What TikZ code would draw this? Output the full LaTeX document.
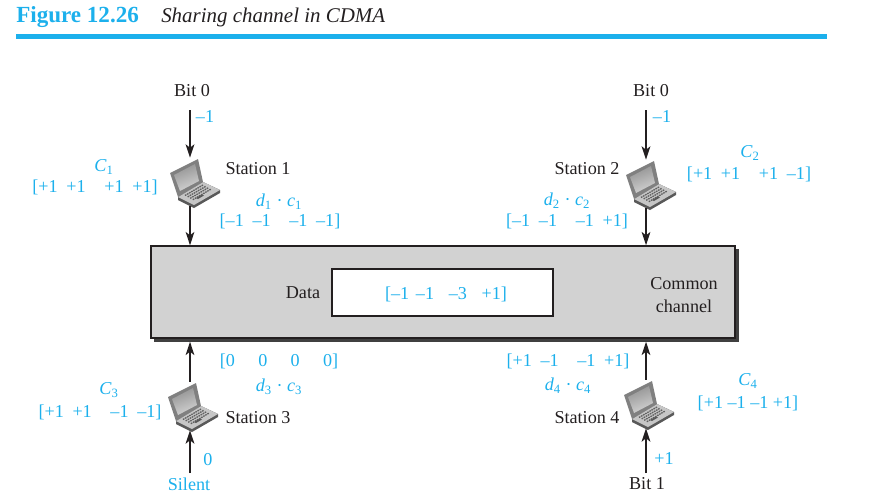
\documentclass[tikz,border=0pt]{standalone}
\usepackage{fontspec}
\setmainfont{Liberation Serif}
\usetikzlibrary{arrows.meta,calc}

\definecolor{cdmablue}{HTML}{1CB0EC}
\definecolor{boxgray}{HTML}{D2D2D2}
\definecolor{inkblack}{HTML}{231F20}

\tikzset{
  lbl/.style={font=\fontsize{13.6}{15}\selectfont, text=inkblack, inner sep=0pt, align=center},
  code/.style={lbl, text=cdmablue},
  flow/.style={draw=inkblack, line width=1.5pt, -{Stealth[length=10pt,width=6.5pt,inset=2.5pt]}},
  lapbox/.style={minimum width=37.5pt, minimum height=36pt, inner sep=0pt},
  laptop/.pic={
    % the base under the keys
    \fill[gray!70!black] (-17,15) -- (8,0) -- (25,8) -- (25,11) -- (-1,26) -- (-17,18) -- cycle;
    \fill[gray!45] (-17,15) -- (8,0) -- (25,8) -- (-1,23) -- cycle;
    % the keys
    \foreach \k in {0,1,2,3}
      \draw[gray!75!black, line width=1pt, dash pattern=on 1.2pt off .6pt]
        ($(-10,13.5)+(\k*2.6,1.4*\k)$) -- ++(18,-10.5);
    \fill[black!65] (1,16) -- (7,12.5) -- (9,13.5) -- (3,17) -- cycle;
    % the lid and the screen
    \fill[black!50] (-25,-9) -- (3,-23) -- (8,0) -- (-17,15) -- cycle;
    \shade[top color=gray!85, bottom color=gray!35, shading angle=20]
      (-21,-7) -- (0,-18) -- (4,-1) -- (-15,9) -- cycle;
  }
}
\newcommand{\mone}{--1}
\newcommand{\pone}{+1}
\newcommand{\gap}{\hspace{6.5pt}}
\newcommand{\wgap}{\hspace{14pt}}

\begin{document}
\begin{tikzpicture}[x=0.75pt,y=-0.75pt]
  \useasboundingbox (0,0) rectangle (877,501);

  % The heading and its rule.
  \node (figno) [anchor=base west, inner sep=0pt, text=cdmablue,
    font=\fontsize{17.3}{18}\selectfont\bfseries] at (16,22) {Figure 12.26};
  \node (figtitle) [anchor=base west, inner sep=0pt, text=inkblack,
    font=\fontsize{15.7}{18}\selectfont\itshape] at (161,22) {Sharing channel in CDMA};
  \fill[cdmablue] (16,34) rectangle (827,39);

  % The common channel, with its shadow.
  \fill[black!75] (154,249) rectangle (739,342);
  \node (channel) [draw=inkblack, line width=1pt, fill=boxgray, inner sep=0pt,
    minimum width=438pt, minimum height=69pt] at (443,292) {};
  \node (databox) [draw=inkblack, line width=.8pt, fill=white, inner sep=0pt,
    minimum width=165.75pt, minimum height=35.25pt] at (442.5,292.5) {};
  \node (data) [lbl] at (303,293) {Data};
  \node (sum) [code] at (446,294) {[\mone\hspace{5pt}\mone\hspace{11pt}--3\hspace{11pt}\pone]};
  \node (common) [lbl] at (684,295) {Common\\[2pt]channel};

  % Station 1.
  \node (lapA) [lapbox] at (195,182) {};
  \pic at (lapA) {laptop};
  \node (bitA) [lbl] at (192,91) {Bit 0};
  \coordinate (inA) at (190,110);
  \draw[flow] (inA) -- (lapA.north -| inA);
  \draw[flow] (lapA.south -| inA) -- (inA |- channel.north);
  \node (valA) [code] at (205,117) {\mone};
  \node (nameA) [lbl] at (258,169) {Station 1};
  \node (cA) [code] at (104,167) {\textit{C}\textsubscript{1}};
  \node (cvecA) [code] at (95,187) {[\pone\gap\pone\wgap\pone\gap\pone]};
  \node (dcA) [code] at (279,202) {\textit{d}\textsubscript{1} · \textit{c}\textsubscript{1}};
  \node (dvecA) [code] at (280,221) {[\mone\gap\mone\wgap\mone\gap\mone]};

  % Station 2.
  \node (lapB) [lapbox] at (651,184) {};
  \pic at (lapB) {laptop};
  \node (bitB) [lbl] at (651,91) {Bit 0};
  \coordinate (inB) at (646,110);
  \draw[flow] (inB) -- (lapB.north -| inB);
  \draw[flow] (lapB.south -| inB) -- (inB |- channel.north);
  \node (valB) [code] at (662,117) {\mone};
  \node (nameB) [lbl] at (587,169) {Station 2};
  \node (cB) [code] at (750,153) {\textit{C}\textsubscript{2}};
  \node (cvecB) [code] at (749,174) {[\pone\gap\pone\wgap\pone\gap\mone]};
  \node (dcB) [code] at (567,201) {\textit{d}\textsubscript{2} · \textit{c}\textsubscript{2}};
  \node (dvecB) [code] at (567,221) {[\mone\gap\mone\wgap\mone\gap\pone]};

  % Station 3.
  \node (lapC) [lapbox] at (193,406) {};
  \pic at (lapC) {laptop};
  \node (silent) [code] at (189,484) {Silent};
  \coordinate (inC) at (190,473);
  \draw[flow] (inC) -- (lapC.south -| inC);
  \draw[flow] (lapC.north -| inC) -- ($(inC |- channel.south)+(0,3)$);
  \node (valC) [code] at (208,460) {0};
  \node (nameC) [lbl] at (258,418) {Station 3};
  \node (cC) [code] at (109,390) {\textit{C}\textsubscript{3}};
  \node (cvecC) [code] at (100,412) {[\pone\gap\pone\wgap\mone\gap\mone]};
  \node (dcC) [code] at (279,387) {\textit{d}\textsubscript{3} · \textit{c}\textsubscript{3}};
  \node (dvecC) [code] at (279,361) {[0\hspace{17.5pt}0\hspace{17.5pt}0\hspace{17.5pt}0]};

  % Station 4.
  \node (lapD) [lapbox] at (649,404) {};
  \pic at (lapD) {laptop};
  \node (bitD) [lbl] at (647,484) {Bit 1};
  \coordinate (inD) at (646,473);
  \draw[flow] (inD) -- (lapD.south -| inD);
  \draw[flow] (lapD.north -| inD) -- ($(inD |- channel.south)+(0,3)$);
  \node (valD) [code] at (664,459) {\pone};
  \node (nameD) [lbl] at (587,418) {Station 4};
  \node (cD) [code] at (748,381) {\textit{C}\textsubscript{4}};
  \node (cvecD) [code] at (748,403) {[\pone\ \mone\ \mone\ \pone]};
  \node (dcD) [code] at (568,386) {\textit{d}\textsubscript{4} · \textit{c}\textsubscript{4}};
  \node (dvecD) [code] at (568,361) {[\pone\gap\mone\wgap\mone\gap\pone]};
\end{tikzpicture}
\end{document}
